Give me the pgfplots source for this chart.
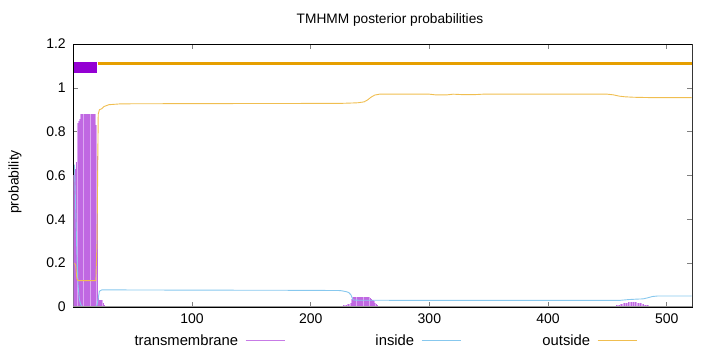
\documentclass[border=0pt]{standalone}
\usepackage{pgfplots}
\pgfplotsset{compat=1.18}
\usepackage{fontspec}
\setmainfont{Liberation Sans}
\definecolor{tmlight}{RGB}{220,168,242}
\definecolor{tmdark}{RGB}{192,104,226}
\definecolor{tmbox}{RGB}{148,0,211}
\definecolor{incol}{RGB}{135,200,238}
\definecolor{outcol}{RGB}{240,190,80}
\definecolor{outtop}{RGB}{230,159,0}
\definecolor{tmleg}{RGB}{199,123,230}
\newcommand{\myfont}{\fontsize{14bp}{16bp}\selectfont}
\newcommand{\legfont}{\fontsize{14.8bp}{16bp}\selectfont}
\pgfplotstableread{
x y
1 0.60
2 0.63
3 0.66
4 0.84
5 0.85
6 0.86
7 0.88
8 0.88
9 0.88
10 0.88
11 0.88
12 0.88
13 0.88
14 0.88
15 0.88
16 0.88
17 0.88
18 0.88
19 0.83
20 0.69
21 0.05
22 0.03
23 0.03
24 0.03
25 0.02
26 0.01
28 0.005
30 0.004
32 0.004
34 0.004
36 0.004
38 0.004
40 0.004
42 0.004
44 0.004
46 0.004
48 0.004
50 0.004
52 0.004
54 0.004
196 0.003
200 0.003
204 0.003
208 0.003
212 0.003
216 0.003
220 0.003
224 0.004
226 0.005
228 0.007
230 0.01
232 0.013
234 0.02
235 0.035
236 0.044
237 0.045
238 0.045
239 0.045
240 0.045
241 0.045
242 0.045
243 0.045
244 0.045
245 0.045
246 0.045
247 0.045
248 0.045
249 0.044
250 0.04
251 0.037
252 0.033
253 0.028
254 0.02
255 0.015
256 0.01
257 0.006
258 0.004
300 0.004
304 0.004
308 0.004
312 0.004
316 0.004
320 0.004
324 0.004
328 0.004
332 0.004
336 0.004
340 0.004
344 0.004
446 0.003
450 0.005
454 0.006
458 0.009
460 0.011
462 0.014
464 0.017
466 0.019
468 0.021
470 0.022
472 0.023
474 0.022
476 0.02
478 0.017
480 0.013
482 0.01
484 0.007
486 0.004
488 0.003
490 0.002
500 0.003
504 0.003
508 0.003
512 0.003
516 0.003
520 0.003
}\tmtable
\begin{document}
\begin{tikzpicture}
\useasboundingbox (0,0) rectangle (720bp,352bp);
\node[font=\fontsize{13.7bp}{16bp}\selectfont] at (390bp,332bp) {TMHMM posterior probabilities};
\node[font=\myfont, rotate=90] at (15bp,170bp) {probability};
\begin{axis}[
  scale only axis, width=619bp, height=263bp,
  at={(73.3bp,45bp)}, anchor=south west,
  xmin=0, xmax=521.5, ymin=0, ymax=1.2,
  xtick={100,200,300,400,500},
  ytick={0,0.2,0.4,0.6,0.8,1,1.2},
  yticklabels={0,0.2,0.4,0.6,0.8,1,1.2},
  tick align=inside, major tick length=5bp,
  tick style={gray, line width=0.6bp},
  axis line style={black, line width=0.6bp},
  ticklabel style={font=\myfont},
  /pgf/number format/assume math mode=true,
  xticklabel style={yshift=-3bp},
  yticklabel style={xshift=-4bp},
  legend columns=3,
  legend plot pos=right,
  legend image code/.code={\draw[#1] (0bp,0bp) -- (39bp,0bp);},
  legend style={draw=none, fill=none, inner sep=0pt,
    at={(axis description cs:0.098,-0.129)}, anchor=west,
    nodes={inner sep=0pt, font=\legfont, text width=104bp, align=right},
    /tikz/every odd column/.append style={column sep=7bp},
    /tikz/every even column/.append style={column sep=25bp}},
]
% TM segment box and outside line at top
\addplot[color=tmbox, line width=10.5bp, forget plot] coordinates {(0.5,1.092) (19.8,1.092)};
\addplot[color=outtop, line width=2.6bp, forget plot] coordinates {(20.7,1.11) (521.5,1.11)};
% transmembrane posterior (impulses)
\addplot[ycomb, color=tmlight, line width=2.4bp, forget plot] table[x=x,y=y] {\tmtable};
\addplot[ycomb, color=tmdark, line width=0.9bp, forget plot] table[x=x,y=y] {\tmtable};
% inside
\addplot[color=incol, line width=0.9bp, forget plot] coordinates {
(1,0.65) (2,0.45) (3,0.25) (4,0.10) (5,0.04) (6,0.015) (7,0.005) (8,0.002) (19,0.002) (20,0.01)
(21,0.04) (22,0.072) (24,0.078) (30,0.078) (100,0.077) (200,0.076) (225,0.075) (227,0.073) (230,0.07) (232,0.066)
(234,0.055) (235,0.04) (236,0.032) (240,0.031) (300,0.03) (400,0.03) (460,0.03) (468,0.034) (475,0.036) (480,0.037)
(484,0.042) (488,0.048) (492,0.05) (521,0.05)
};
% outside
\addplot[color=outcol, line width=0.9bp, forget plot] coordinates {
(1,0.20) (2,0.19) (3,0.13) (4,0.12) (19,0.12) (20,0.30) (21,0.88) (22,0.90) (24,0.905) (26,0.915)
(30,0.923) (40,0.927) (100,0.928) (225,0.929) (236,0.931) (240,0.932) (245,0.936) (248,0.945) (251,0.958) (254,0.967)
(258,0.971) (300,0.971) (305,0.968) (315,0.968) (320,0.971) (328,0.969) (338,0.969) (345,0.971) (450,0.971) (455,0.968)
(460,0.962) (465,0.959) (472,0.957) (490,0.955) (521,0.955)
};
\addlegendimage{color=tmleg, line width=1bp}
\addlegendentry{transmembrane}
\addlegendimage{color=incol, line width=1bp}
\addlegendentry{inside}
\addlegendimage{color=outcol, line width=1bp}
\addlegendentry{outside}
\draw[gray!80, line width=1.4bp] (rel axis cs:0,0) -- (rel axis cs:1,0) -- (rel axis cs:1,1);
\end{axis}
\end{tikzpicture}
\end{document}
